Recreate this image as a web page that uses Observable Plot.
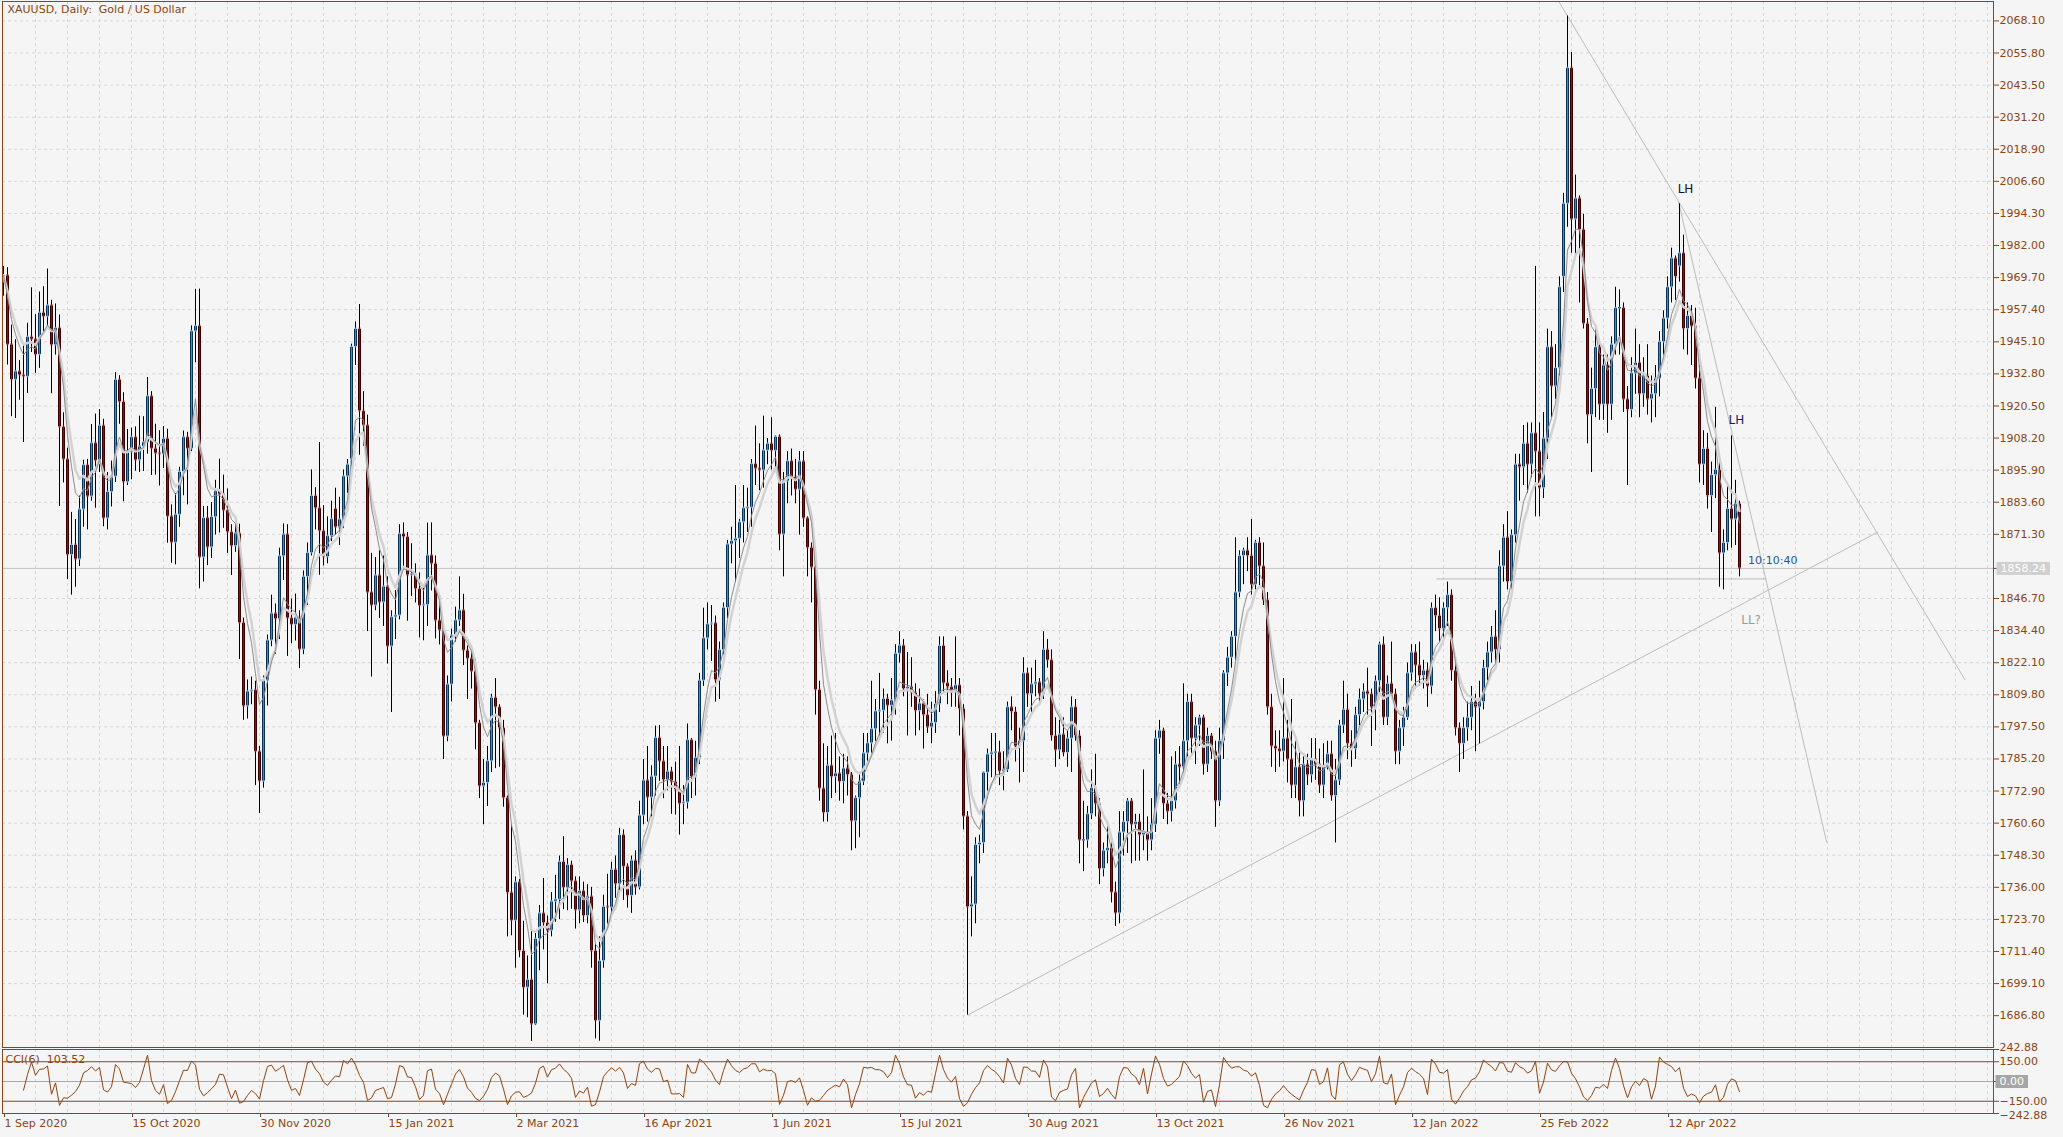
<!DOCTYPE html>
<html>
<head>
<meta charset="utf-8">
<script src="https://cdn.jsdelivr.net/npm/d3@7"></script>
<script src="https://cdn.jsdelivr.net/npm/@observablehq/plot@0.6"></script>
<style>
html, body { margin: 0; padding: 0; background: #f5f5f5; }
#chart { position: relative; width: 2063px; height: 1137px; overflow: hidden; background: #f5f5f5; }
#chart svg { position: absolute; left: 0; display: block; }
</style>
</head>
<body>
<div id="chart"></div>
<script>
// ---------------- DATA (XAUUSD daily, 1 Sep 2020 .. 9 May 2022, bar index 0..434) ----------------
const openP = [
1967.9,1970.5,1944.0,1930.5,
1933.7,1932.3,1931.7,1946.9,1946.0,
1940.1,1956.2,1954.7,1959.0,1943.8,
1950.3,1912.4,1900.0,1863.4,1867.2,
1861.7,1880.8,1897.8,1885.8,1906.2,
1899.5,1912.9,1877.4,1887.5,1893.4,
1930.5,1922.0,1891.3,1902.8,1908.5,
1899.7,1904.9,1906.5,1924.2,1904.1,
1902.3,1902.0,1907.9,1878.1,1868.1,
1878.8,1895.2,1908.5,1904.1,1949.1,
1951.1,1862.4,1877.5,1866.3,1877.9,
1887.8,1886.6,1880.4,1872.1,1866.8,
1871.6,1837.3,1805.4,1811.0,1811.5,
1788.0,1776.6,1815.3,1830.6,1840.9,
1838.8,1862.9,1871.2,1839.1,1836.6,
1839.3,1827.1,1855.0,1864.1,1886.0,
1881.3,1872.5,1862.6,1870.6,
1881.0,1874.0,1877.0,1893.5,
1900.0,1943.1,1950.0,1918.5,1913.0,
1849.0,1844.0,1855.5,1845.2,1851.2,
1828.3,1839.5,1840.2,1871.4,1870.2,
1855.6,1855.9,1850.3,1843.9,1844.2,
1863.2,1860.0,1838.2,1834.5,1793.8,
1813.7,1832.4,1838.3,1842.1,1826.7,
1823.6,1818.7,1798.9,1774.7,1776.0,
1784.3,1808.6,1805.0,1797.0,1770.2,
1733.9,1723.2,1737.9,1711.6,1697.5,
1700.5,1683.5,1716.2,1726.0,1722.3,
1719.4,1730.5,1731.3,1745.7,1735.8,
1744.5,1738.3,1727.2,1734.5,1725.0,
1732.4,1711.6,1684.8,1707.7,
1728.5,1728.2,1742.7,1737.2,1756.0,
1743.9,1732.7,1746.2,1736.0,1763.5,
1776.9,1770.4,1778.4,1793.2,1784.2,
1777.1,1780.3,1776.3,1773.3,1768.0,
1768.5,1792.4,1778.3,1785.5,1815.2,
1831.4,1836.8,1837.2,1815.4,1826.9,
1843.1,1867.4,1868.7,1869.6,1875.9,
1881.3,1881.5,1898.2,1896.5,1895.8,
1903.4,1906.0,1903.3,1908.6,1871.2,
1891.6,1899.3,1893.2,1888.4,1899.2,
1877.4,1866.1,1858.6,1811.6,1773.8,
1764.5,1782.6,1778.3,1779.6,1776.4,
1781.5,1779.1,1761.3,1770.2,1776.5,
1787.3,1791.2,1796.6,1803.4,1803.7,
1808.2,1805.6,1807.6,1825.5,1828.6,
1812.0,1812.7,1810.5,1803.6,1806.4,
1802.0,1797.3,1799.0,1806.2,1828.5,
1814.2,1812.7,1810.6,1813.4,1804.3,
1763.1,1728.4,1729.4,1752.2,1753.0,
1779.9,1786.9,1787.6,1787.7,1780.4,
1781.0,1805.0,1803.2,1790.0,1792.0,
1818.0,1810.0,1813.8,1814.5,1810.0,
1827.0,1823.0,1794.0,1788.5,1794.5,
1787.5,1793.0,1805.0,1794.0,1754.0,
1754.0,1764.0,1774.0,1768.0,1743.0,
1750.0,1751.0,1734.0,1726.0,1757.0,
1761.0,1769.0,1760.0,1761.0,1756.0,
1757.0,1754.0,1760.0,1793.0,1796.0,
1768.0,1765.0,1769.0,1783.0,1782.0,
1792.0,1807.0,1793.0,1798.0,1801.0,
1783.0,1794.0,1788.0,1769.0,1792.0,
1818.0,1824.0,1832.0,1849.0,1863.0,
1865.0,1863.0,1852.0,1868.0,1859.0,
1846.0,1805.0,1790.0,1789.0,1788.0,
1793.0,1785.0,1775.0,1782.0,1769.0,
1783.0,1779.0,1785.0,1783.0,1775.0,
1782.0,1787.0,1771.0,1777.0,1798.0,
1804.0,1791.0,1789.0,1802.0,
1808.0,1811.0,1810.0,1805.0,1815.0,
1829.0,1801.0,1814.0,1810.0,1788.0,
1797.0,1801.0,1818.0,1826.0,1821.0,
1817.0,1819.0,1813.0,1843.0,1840.0,
1835.0,1843.0,1848.0,1819.0,1797.0,
1791.0,1797.0,1801.0,1807.0,1805.0,
1807.0,1820.0,1826.0,1832.0,1827.0,
1859.0,1870.0,1853.0,1871.0,1898.0,
1897.0,1906.0,1898.0,1910.0,1903.0,
1889.0,1908.0,1943.0,1928.0,1935.0,
1970.0,1998.0,2050.0,1992.0,2000.0,
1988.0,1952.0,1917.0,1927.0,1943.0,
1921.0,1936.0,1921.0,1944.0,1958.0,
1958.0,1923.0,1919.0,1933.0,1937.0,
1925.0,1932.0,1923.0,1925.0,1931.0,
1945.0,1954.0,1966.0,1977.0,
1974.0,1979.0,1950.0,1955.0,1951.0,
1931.0,1898.0,1904.0,1886.0,1894.0,
1896.0,1864.0,1868.0,1881.0,1877.0,
1883.0];

const highP = [
1974.0,1973.5,1951.5,1945.9,
1937.9,1944.3,1952.2,1965.8,1955.5,
1964.2,1966.2,1973.0,1961.0,1959.6,
1955.4,1917.9,1904.3,1879.7,1877.0,
1886.0,1899.7,1900.0,1913.4,1917.4,
1919.1,1915.4,1895.0,1899.4,1933.3,
1932.1,1925.6,1911.5,1912.0,1912.5,
1916.6,1916.4,1931.4,1926.0,1913.5,
1911.0,1912.6,1911.6,1882.6,1886.9,
1897.0,1910.9,1910.4,1951.2,1965.2,
1965.3,1882.0,1882.0,1883.5,1892.0,
1900.1,1894.0,1888.7,1875.0,1875.6,
1875.2,1839.2,1815.5,1816.6,1815.0,
1790.0,1817.0,1832.7,1848.0,1844.6,
1866.0,1875.3,1875.0,1846.5,1848.4,
1842.0,1857.3,1868.0,1896.0,1889.2,
1906.5,1882.3,1878.0,1884.0,
1889.0,1885.5,1896.0,1900.0,
1944.2,1952.7,1959.4,1926.0,1917.0,
1864.0,1862.4,1865.0,1863.0,1855.0,
1842.0,1849.8,1875.0,1875.7,1872.0,
1867.7,1860.0,1856.5,1850.8,1875.6,
1875.7,1863.0,1846.6,1838.0,1817.0,
1835.0,1843.4,1855.0,1848.3,1828.5,
1828.0,1823.4,1800.0,1785.0,1790.0,
1810.0,1816.0,1806.0,1800.0,1771.0,
1760.0,1740.0,1739.0,1723.0,1709.7,
1721.0,1719.0,1729.0,1739.4,1725.0,
1734.0,1740.6,1748.0,1755.4,1747.0,
1746.0,1740.0,1740.0,1738.0,1737.0,
1736.0,1714.0,1717.0,1733.0,
1741.0,1745.6,1748.0,1758.6,1758.0,
1745.0,1748.0,1750.0,1769.0,1785.0,
1790.0,1782.6,1797.8,1798.0,1790.0,
1790.0,1782.0,1784.0,1790.0,1775.0,
1798.6,1793.0,1792.0,1818.0,1843.0,
1845.0,1844.0,1840.0,1830.0,1845.0,
1869.0,1874.0,1890.0,1877.0,1890.0,
1889.0,1900.0,1912.8,1906.0,1916.6,
1908.0,1916.0,1909.0,1909.4,1895.0,
1903.0,1904.0,1900.0,1903.0,1903.0,
1878.0,1868.0,1862.0,1815.0,1791.0,
1790.0,1794.0,1795.0,1786.0,1787.0,
1786.0,1780.0,1771.0,1780.0,1795.0,
1795.0,1815.0,1808.0,1818.0,1812.0,
1810.0,1816.0,1829.0,1834.0,1831.0,
1826.0,1824.0,1814.0,1812.0,1808.0,
1810.0,1807.0,1811.0,1832.0,1832.0,
1819.0,1816.0,1832.0,1816.0,1806.0,
1765.0,1740.0,1755.0,1756.0,1780.0,
1789.0,1795.0,1795.0,1792.0,1788.0,
1807.0,1809.0,1805.0,1797.0,1824.0,
1820.0,1820.0,1823.0,1816.0,1834.0,
1831.0,1827.0,1801.0,1800.0,1801.0,
1796.0,1809.0,1808.0,1796.0,1769.0,
1767.0,1781.0,1787.0,1770.0,1753.0,
1760.0,1753.0,1738.0,1765.0,1765.0,
1770.0,1770.0,1764.0,1764.0,1781.0,
1763.0,1770.0,1796.0,1800.0,1797.0,
1772.0,1786.0,1788.0,1790.0,1814.0,
1810.0,1810.0,1801.0,1802.0,1802.0,
1797.0,1795.0,1792.0,1797.0,1819.0,
1828.0,1834.0,1870.0,1865.0,1866.0,
1870.0,1877.0,1869.0,1870.0,1868.0,
1849.0,1810.0,1796.0,1796.0,1816.0,
1800.0,1808.0,1792.0,1788.0,1786.0,
1787.0,1793.0,1793.0,1789.0,1791.0,
1792.0,1792.0,1785.0,1800.0,1815.0,
1810.0,1796.0,1805.0,1812.0,
1814.0,1820.0,1812.0,1817.0,1830.0,
1832.0,1817.0,1830.0,1812.0,1800.0,
1805.0,1822.0,1829.0,1829.0,1830.0,
1823.0,1822.0,1845.0,1848.0,1847.0,
1845.0,1853.0,1850.0,1822.0,1799.0,
1801.0,1807.0,1813.0,1810.0,1815.0,
1823.0,1830.0,1836.0,1842.0,1865.0,
1875.0,1880.0,1873.0,1902.0,1902.0,
1913.0,1914.0,1914.0,1974.0,1914.0,
1918.0,1950.0,1949.0,1944.0,1970.0,
2002.0,2070.0,2056.0,2009.0,2001.0,
1994.0,1954.0,1935.0,1950.0,1946.0,
1940.0,1940.0,1947.0,1966.0,1965.0,
1960.0,1928.0,1939.0,1950.0,1944.0,
1939.0,1944.0,1932.0,1936.0,1949.0,
1957.0,1970.0,1981.0,1978.0,
1998.0,1986.0,1960.0,1959.0,1958.0,
1936.0,1911.0,1910.0,1899.0,1920.0,
1899.0,1873.0,1891.0,1909.0,1892.0,
1884.0];

const lowP = [
1962.6,1936.2,1916.4,1915.7,
1922.7,1906.5,1925.3,1941.0,1933.0,
1934.9,1948.0,1950.0,1925.2,1940.0,
1882.0,1891.0,1854.0,1848.0,1851.0,
1859.0,1874.0,1873.0,1884.0,1881.3,
1895.0,1874.2,1873.0,1881.8,1891.2,
1913.5,1883.8,1890.0,1892.2,1895.5,
1895.0,1895.4,1902.0,1893.9,1894.0,
1889.8,1896.5,1867.9,1860.2,1859.6,
1874.0,1886.1,1882.6,1903.0,1937.1,
1850.4,1853.0,1859.3,1862.0,1871.0,
1871.8,1873.6,1864.0,1855.5,1864.4,
1823.3,1800.0,1800.5,1806.0,1775.0,
1764.3,1774.0,1805.5,1828.2,1825.3,
1831.0,1853.6,1824.5,1829.4,1830.4,
1819.8,1825.2,1844.0,1863.0,1873.0,
1855.6,1859.2,1860.0,1868.5,
1871.0,1867.0,1873.5,1887.0,
1897.0,1936.0,1901.6,1905.0,1834.0,
1816.6,1842.0,1839.0,1836.0,1821.6,
1803.0,1831.0,1838.5,1859.0,1838.0,
1847.5,1845.0,1831.6,1830.5,1836.0,
1849.6,1831.2,1828.9,1785.0,1791.8,
1807.0,1830.0,1836.0,1821.0,1808.0,
1812.0,1788.7,1770.0,1760.0,1767.0,
1780.0,1781.5,1782.0,1766.7,1717.0,
1717.4,1705.0,1709.0,1687.0,1686.0,
1676.9,1683.0,1704.0,1712.0,1699.0,
1717.0,1722.6,1723.6,1727.4,1727.0,
1727.6,1720.0,1722.0,1722.5,1722.0,
1705.0,1677.9,1677.0,1705.0,
1720.0,1725.0,1731.8,1734.0,1731.0,
1728.0,1726.0,1733.0,1735.0,1760.0,
1761.0,1763.0,1771.0,1776.6,1770.0,
1773.0,1764.0,1763.7,1756.0,1760.0,
1766.0,1770.0,1771.0,1783.0,1813.0,
1827.0,1822.6,1807.0,1808.0,1825.0,
1839.0,1860.0,1853.0,1862.0,1868.0,
1872.0,1874.0,1890.0,1888.0,1889.0,
1898.0,1896.0,1896.0,1865.0,1855.0,
1883.0,1886.0,1883.0,1871.0,1874.0,
1855.0,1845.0,1802.0,1769.0,1761.0,
1761.0,1770.0,1772.0,1769.0,1768.0,
1771.0,1750.0,1750.8,1755.0,1775.0,
1783.0,1786.0,1792.0,1794.0,1795.0,
1791.0,1792.0,1802.0,1822.0,1809.0,
1794.0,1805.0,1794.0,1796.0,1789.0,
1795.0,1791.0,1795.0,1803.0,1810.0,
1806.0,1805.0,1805.0,1794.0,1758.0,
1687.0,1717.0,1722.0,1745.0,1749.0,
1770.0,1778.0,1777.0,1775.0,1773.0,
1780.0,1796.0,1784.0,1776.0,1780.0,
1805.0,1802.0,1809.0,1806.0,1808.0,
1820.0,1792.0,1782.0,1785.0,1786.0,
1782.0,1780.0,1792.0,1745.0,1742.0,
1751.0,1762.0,1763.0,1737.0,1740.0,
1745.0,1730.0,1721.0,1722.0,1748.0,
1749.0,1745.0,1746.0,1746.0,1750.0,
1746.0,1750.0,1757.0,1787.0,1762.0,
1760.0,1761.0,1766.0,1774.0,1778.0,
1786.0,1787.0,1783.0,1790.0,1779.0,
1780.0,1785.0,1759.0,1767.0,1785.0,
1813.0,1820.0,1823.0,1847.0,1852.0,
1857.0,1848.0,1850.0,1851.0,1844.0,
1802.0,1782.0,1780.0,1782.0,1784.0,
1776.0,1770.0,1770.0,1763.0,1763.0,
1775.0,1776.0,1777.0,1772.0,1770.0,
1781.0,1769.0,1753.0,1775.0,1795.0,
1785.0,1782.0,1785.0,1798.0,
1803.0,1802.0,1790.0,1796.0,1810.0,
1798.0,1798.0,1809.0,1783.0,1783.0,
1790.0,1800.0,1815.0,1812.0,1813.0,
1812.0,1805.0,1810.0,1834.0,1830.0,
1831.0,1836.0,1815.0,1794.0,1780.0,
1785.0,1792.0,1796.0,1788.0,1791.0,
1804.0,1815.0,1822.0,1821.0,1822.0,
1853.0,1850.0,1850.0,1868.0,1884.0,
1890.0,1887.0,1893.0,1878.0,1878.0,
1885.0,1900.0,1916.0,1923.0,1932.0,
1964.0,1989.0,1979.0,1977.0,1960.0,
1950.0,1906.0,1895.0,1916.0,1915.0,
1915.0,1910.0,1915.0,1940.0,1940.0,
1918.0,1890.0,1916.0,1925.0,1916.0,
1920.0,1917.0,1914.0,1916.0,1924.0,
1940.0,1950.0,1960.0,1961.0,
1968.0,1942.0,1940.0,1936.0,1927.0,
1891.0,1890.0,1881.0,1872.0,1885.0,
1851.0,1850.0,1865.0,1866.0,1867.0,
1855.0];

const closeP = [
1970.5,1944.0,1930.5,1933.7,
1932.3,1931.7,1946.9,1946.0,1940.1,
1956.2,1954.7,1959.0,1943.8,1950.3,
1912.4,1900.0,1863.4,1867.2,1861.7,
1880.8,1897.8,1885.8,1906.2,1899.5,
1912.9,1877.4,1887.5,1893.4,1930.5,
1922.0,1891.3,1902.8,1908.5,1899.7,
1904.9,1906.5,1924.2,1904.1,1902.3,
1902.0,1907.9,1878.1,1868.1,1878.8,
1895.2,1908.5,1904.1,1949.1,1951.1,
1862.4,1877.5,1866.3,1877.9,1887.8,
1886.6,1880.4,1872.1,1866.8,1871.6,
1837.3,1805.4,1811.0,1811.5,1788.0,
1776.6,1815.3,1830.6,1840.9,1838.8,
1862.9,1871.2,1839.1,1836.6,1839.3,
1827.1,1855.0,1864.1,1886.0,1881.3,
1872.5,1862.6,1870.6,1877.1,
1874.0,1877.0,1893.5,1898.0,
1943.1,1950.0,1918.5,1913.0,1849.0,
1844.0,1855.5,1845.2,1851.2,1828.3,
1839.5,1840.2,1871.4,1870.2,1855.6,
1855.9,1850.3,1843.9,1844.2,1863.2,
1860.0,1838.2,1834.5,1793.8,1813.7,
1832.4,1838.3,1842.1,1826.7,1823.6,
1818.7,1798.9,1774.7,1776.0,1784.3,
1808.6,1805.0,1797.0,1770.2,1733.9,
1723.2,1737.9,1711.6,1697.5,1700.5,
1683.5,1716.2,1726.0,1722.3,1719.4,
1730.5,1731.3,1745.7,1735.8,1744.5,
1738.3,1727.2,1734.5,1725.0,1732.4,
1711.6,1684.8,1707.7,1728.5,
1728.2,1742.7,1737.2,1756.0,1743.9,
1732.7,1746.2,1736.0,1763.5,1776.9,
1770.4,1778.4,1793.2,1784.2,1777.1,
1780.3,1776.3,1773.3,1768.0,1768.5,
1792.4,1778.3,1785.5,1815.2,1831.4,
1836.8,1837.2,1815.4,1826.9,1843.1,
1867.4,1868.7,1869.6,1875.9,1881.3,
1881.5,1898.2,1896.5,1895.8,1903.4,
1906.0,1903.3,1908.6,1871.2,1891.6,
1899.3,1893.2,1888.4,1899.2,1877.4,
1866.1,1858.6,1811.6,1773.8,1764.5,
1782.6,1778.3,1779.6,1776.4,1781.5,
1779.1,1761.3,1770.2,1776.5,1787.3,
1791.2,1796.6,1803.4,1803.7,1808.2,
1805.6,1807.6,1825.5,1828.6,1812.0,
1812.7,1810.5,1803.6,1806.4,1802.0,
1797.3,1799.0,1806.2,1828.5,1814.2,
1812.7,1810.6,1813.4,1804.3,1763.1,
1728.4,1729.4,1752.2,1753.0,1779.9,
1786.9,1787.6,1787.7,1780.4,1781.0,
1805.0,1803.2,1790.0,1792.0,1818.0,
1810.0,1813.8,1814.5,1810.0,1827.0,
1823.0,1794.0,1788.5,1794.5,1787.5,
1793.0,1805.0,1794.0,1754.0,1754.0,
1764.0,1774.0,1768.0,1743.0,1750.0,
1751.0,1734.0,1726.0,1757.0,1761.0,
1769.0,1760.0,1761.0,1756.0,1757.0,
1754.0,1760.0,1793.0,1796.0,1768.0,
1765.0,1769.0,1783.0,1782.0,1792.0,
1807.0,1793.0,1798.0,1801.0,1783.0,
1794.0,1788.0,1769.0,1792.0,1818.0,
1824.0,1832.0,1849.0,1863.0,1865.0,
1863.0,1852.0,1868.0,1859.0,1846.0,
1805.0,1790.0,1789.0,1788.0,1793.0,
1785.0,1775.0,1782.0,1769.0,1783.0,
1779.0,1785.0,1783.0,1775.0,1782.0,
1787.0,1771.0,1777.0,1798.0,1804.0,
1791.0,1789.0,1802.0,1808.0,
1811.0,1810.0,1805.0,1815.0,1829.0,
1801.0,1814.0,1810.0,1788.0,1797.0,
1801.0,1818.0,1826.0,1821.0,1817.0,
1819.0,1813.0,1843.0,1840.0,1835.0,
1843.0,1848.0,1819.0,1797.0,1791.0,
1797.0,1801.0,1807.0,1805.0,1807.0,
1820.0,1826.0,1832.0,1827.0,1859.0,
1870.0,1853.0,1871.0,1898.0,1897.0,
1906.0,1898.0,1910.0,1903.0,1889.0,
1908.0,1943.0,1928.0,1935.0,1966.0,
1998.0,2050.0,1992.0,2000.0,1988.0,
1952.0,1917.0,1927.0,1943.0,1921.0,
1936.0,1921.0,1944.0,1958.0,1958.0,
1923.0,1919.0,1933.0,1937.0,1925.0,
1932.0,1923.0,1925.0,1931.0,1945.0,
1954.0,1966.0,1977.0,1970.0,
1979.0,1950.0,1955.0,1951.0,1931.0,
1898.0,1904.0,1886.0,1894.0,1896.0,
1864.0,1868.0,1881.0,1877.0,1883.0,
1858.24];

// Date tick labels (bar index -> label)
const tickIdx = [0, 32, 64, 96, 128, 160, 192, 224, 256, 288, 320, 352, 384, 416];
const dateLabels = ["1 Sep 2020", "15 Oct 2020", "30 Nov 2020", "15 Jan 2021", "2 Mar 2021", "16 Apr 2021",
  "1 Jun 2021", "15 Jul 2021", "30 Aug 2021", "13 Oct 2021", "26 Nov 2021", "12 Jan 2022", "25 Feb 2022", "12 Apr 2022"];

// Price-axis tick labels
const priceTicks = [1686.8, 1699.1, 1711.4, 1723.7, 1736.0, 1748.3, 1760.6, 1772.9, 1785.2, 1797.5, 1809.8,
  1822.1, 1834.4, 1846.7, 1871.3, 1883.6, 1895.9, 1908.2, 1920.5, 1932.8, 1945.1, 1957.4, 1969.7, 1982.0,
  1994.3, 2006.6, 2018.9, 2031.2, 2043.5, 2055.8, 2068.1];
const currentPrice = 1858.24;

// CCI panel levels
const cciLevels = [242.88, 150, 0, -150, -242.88];
const cciPeriod = 6;
const cciCaption = "CCI(6)\u00a0\u00a0103.52";
const titleText = "XAUUSD, Daily:\u00a0\u00a0Gold / US Dollar";

// Hand-drawn trendlines (bar index, price)
const trendStartIdx   = [388.8, 418.8, 241.0, 358.25];
const trendStartPrice = [2075.6, 1998.5, 1687.0, 1854.2];
const trendEndIdx     = [490.4, 455.8, 468.6, 440.75];
const trendEndPrice   = [1815.5, 1753.2, 1872.2, 1854.2];

// Text annotations (bar index, price)
const annotText  = ["LH", "LH", "LL?", "10:10:40"];
const annotIdx   = [420.5, 433.2, 436.9, 442.3];
const annotPrice = [2003.8, 1915.2, 1838.5, 1861.3];

// ---------------- STYLE ----------------
const brown = "#8B4513";
const bullFill = "#1E90FF";
const bearFill = "#B00000";
const gridColor = "#d6d6d6";
const annotColor = ["#111122", "#1c1c6e", "#9a9a9a", "#1f5b8c"];
const annotSize = [12, 12, 12, 11];
const font = "'DejaVu Sans', Verdana, sans-serif";
const W = 2063;
const xDomain = [-0.25, 497.5];
const gridIdx = d3.range(8, 497, 8);

// ---------------- DERIVED ----------------
const bars = closeP.map((c, i) => ({
  i, open: openP[i], high: highP[i], low: lowP[i], close: c,
  top: Math.max(openP[i], c), bot: Math.min(openP[i], c),
  fill: c >= openP[i] ? bullFill : bearFill
}));
function ema(vals, period) {
  const a = 2 / (period + 1); let e = vals[0];
  return vals.map((v, i) => { e = i === 0 ? v : e + a * (v - e); return {i, v: e}; });
}
const emaFast = ema(closeP, 6);
const emaSlow = ema(closeP, 8);
const tp = bars.map(b => (b.high + b.low + b.close) / 3);
const cci = [];
for (let i = cciPeriod - 1; i < tp.length; i++) {
  const w = tp.slice(i - cciPeriod + 1, i + 1);
  const m = d3.mean(w);
  const md = d3.mean(w, v => Math.abs(v - m));
  cci.push({i, v: md ? (tp[i] - m) / (0.015 * md) : 0});
}
const trends = trendStartIdx.map((s, k) => ({x1: s, y1: trendStartPrice[k], x2: trendEndIdx[k], y2: trendEndPrice[k]}));
const annots = annotText.map((t, k) => ({t, i: annotIdx[k], p: annotPrice[k], c: annotColor[k], s: annotSize[k]}));

const baseStyle = {background: "transparent", color: brown, fontFamily: font, fontSize: "11px"};

const main = Plot.plot({
  width: W, height: 1048,
  marginLeft: 2, marginRight: 70, marginTop: 1, marginBottom: 1,
  x: {domain: xDomain, axis: null},
  y: {domain: [1674.6, 2075.54], axis: null},
  style: baseStyle,
  marks: [
    Plot.ruleY(priceTicks, {stroke: gridColor, strokeDasharray: "3,3"}),
    Plot.ruleX(gridIdx, {stroke: gridColor, strokeDasharray: "3,3"}),
    Plot.ruleY([currentPrice], {stroke: "#c4c4c4"}),
    Plot.link(trends, {x1: "x1", y1: "y1", x2: "x2", y2: "y2", stroke: "#bcbcbc", strokeWidth: 1, clip: true}),
    // wicks
    Plot.ruleX(bars, {x: "i", y1: "low", y2: "high", stroke: "#000", strokeWidth: 1}),
    // body outline (3px) and coloured core
    Plot.ruleX(bars, {x: "i", y1: "bot", y2: "top", stroke: "#000", strokeWidth: 3, insetTop: -0.5, insetBottom: -0.5}),
    Plot.ruleX(bars, {x: "i", y1: "bot", y2: "top", stroke: "fill", strokeWidth: 1.7, insetTop: 1, insetBottom: 1}),
    Plot.line(emaSlow, {x: "i", y: "v", stroke: "#d2d2d2", strokeWidth: 2.5}),
    Plot.line(emaFast, {x: "i", y: "v", stroke: "#8c8c8c", strokeWidth: 1}),
    Plot.text(annots, {x: "i", y: "p", text: "t", fill: "c", fontSize: "s", textAnchor: "middle"}),
    Plot.text([titleText], {frameAnchor: "top-left", dx: 5, dy: 4, fill: brown, fontSize: 11}),
    Plot.frame({stroke: brown}),
    Plot.axisY(priceTicks, {anchor: "right", label: null, tickSize: 5, tickPadding: 1, tickFormat: d3.format(".2f"), fontSize: 11}),
    Plot.axisY([currentPrice], {anchor: "right", label: null, tickSize: 5, tickFormat: () => ""}),
    Plot.text([currentPrice], {y: d => d, text: d => d3.format(".2f")(d), frameAnchor: "right", dx: 7, textAnchor: "start", fill: "#ffffff", fontSize: 11})
  ]
});

// CCI sub-window: its SVG starts 12px higher (transparent) so the top level label fits
const cciPlot = Plot.plot({
  width: W, height: 101,
  marginLeft: 2, marginRight: 70, marginTop: 13, marginBottom: 24,
  x: {domain: xDomain, axis: null},
  y: {domain: [-242.88, 242.88], axis: null},
  style: baseStyle,
  marks: [
    Plot.ruleX(gridIdx, {stroke: gridColor, strokeDasharray: "3,3"}),
    Plot.ruleY([0], {stroke: "#a8a8a8"}),
    Plot.ruleY([150, -150], {stroke: brown}),
    Plot.line(cci, {x: "i", y: "v", stroke: brown, strokeWidth: 1}),
    Plot.frame({stroke: brown}),
    Plot.text([cciCaption], {frameAnchor: "top-left", dx: 3, dy: 6, fill: brown, fontSize: 11}),
    Plot.axisX(tickIdx, {anchor: "bottom", label: null, tickSize: 4, tickPadding: 2, textAnchor: "start", dx: 1,
      tickFormat: d => dateLabels[tickIdx.indexOf(d)], fontSize: 11}),
    Plot.axisY(cciLevels, {anchor: "right", label: null, tickSize: 5, tickFormat: () => ""}),
    Plot.text([cciLevels[0]], {y: d => d, text: d => d3.format(".2f")(d), frameAnchor: "right", dx: 6, dy: -2, textAnchor: "start", fill: brown, fontSize: 11}),
    Plot.text([cciLevels[1]], {y: d => d, text: d => d3.format(".2f")(d), frameAnchor: "right", dx: 6, dy: 0, textAnchor: "start", fill: brown, fontSize: 11}),
    Plot.text([cciLevels[2]], {y: d => d, text: d => d3.format(".2f")(d), frameAnchor: "right", dx: 6, dy: 0, textAnchor: "start", fill: "#ffffff", fontSize: 11}),
    Plot.text([cciLevels[3]], {y: d => d, text: d => d3.format(".2f")(d), frameAnchor: "right", dx: 6, dy: 0, textAnchor: "start", fill: brown, fontSize: 11}),
    Plot.text([cciLevels[4]], {y: d => d, text: d => d3.format(".2f")(d), frameAnchor: "right", dx: 6, dy: 2, textAnchor: "start", fill: brown, fontSize: 11})
  ]
});

const chart = document.getElementById("chart");
main.style.top = "0px";
cciPlot.style.top = "1036px";
chart.appendChild(main);
chart.appendChild(cciPlot);

function boxText(svg, str, fill) {
  d3.select(svg).selectAll("text").filter(function () { return this.textContent === str; }).each(function () {
    const b = this.getBBox();
    const r = d3.select(this.parentNode).insert("rect", () => this)
      .attr("x", b.x - 4).attr("y", b.y).attr("width", b.width + 8).attr("height", b.height)
      .attr("fill", fill);
    const t = this.getAttribute("transform");
    if (t) r.attr("transform", t);
  });
}
boxText(main, d3.format(".2f")(currentPrice), "#d0d0d0");
boxText(cciPlot, "0.00", "#a6a6a6");
</script>
</body>
</html>
